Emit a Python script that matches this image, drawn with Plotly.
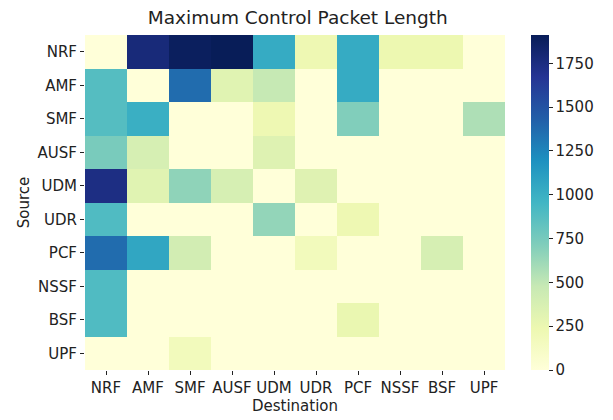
import plotly.graph_objects as go

nodes = ["NRF", "AMF", "SMF", "AUSF", "UDM", "UDR", "PCF", "NSSF", "BSF", "UPF"]
sources = nodes
destinations = nodes

# rows = source, columns = destination
row_NRF  = [0,    1780, 1890, 1912, 1030, 230, 1030, 240, 240, 0]
row_AMF  = [880,  0,    1370, 320,  480,  0,   1030, 0,   0,   0]
row_SMF  = [880,  1000, 0,    0,    230,  0,   710,  0,   0,   560]
row_AUSF = [740,  385,  0,    0,    335,  0,   0,    0,   0,   0]
row_UDM  = [1740, 320,  665,  385,  0,    330, 0,    0,   0,   0]
row_UDR  = [900,  0,    0,    0,    650,  0,   225,  0,   0,   0]
row_PCF  = [1370, 1060, 410,  0,    0,    172, 0,    0,   385, 0]
row_NSSF = [900,  0,    0,    0,    0,    0,   0,    0,   0,   0]
row_BSF  = [900,  0,    0,    0,    0,    0,   260,  0,   0,   0]
row_UPF  = [0,    0,    172,  0,    0,    0,   0,    0,   0,   0]

z = [row_NRF, row_AMF, row_SMF, row_AUSF, row_UDM, row_UDR, row_PCF, row_NSSF, row_BSF, row_UPF]

cbar_ticks = [0, 250, 500, 750, 1000, 1250, 1500, 1750]

ylgnbu = ["#ffffd9", "#edf8b1", "#c7e9b4", "#7fcdbb", "#41b6c4",
          "#1d91c0", "#225ea8", "#253494", "#081d58"]
colorscale = [[i / 8, c] for i, c in enumerate(ylgnbu)]

font_family = "DejaVu Sans"
tick_size = 15

fig = go.Figure(go.Heatmap(
    z=z, x=destinations, y=sources,
    colorscale=colorscale, zmin=0, zmax=1912,
    xgap=0, ygap=0,
    colorbar=dict(
        x=1.062, xanchor="left", xref="paper", xpad=0, ypad=0,
        y=0.5, yanchor="middle", len=1.0, lenmode="fraction",
        thickness=18, outlinewidth=0,
        tickvals=cbar_ticks, ticks="outside", ticklen=4, tickwidth=1,
        tickcolor="#222", tickfont=dict(size=tick_size, color="#222", family=font_family),
    ),
))

# page body adds an 8px offset, so the figure is sized 605x412
fig.update_layout(
    width=605, height=412,
    margin=dict(l=77, r=108, t=27, b=50),
    paper_bgcolor="white", plot_bgcolor="white",
    font=dict(family=font_family, color="#222"),
    title=dict(text="Maximum Control Packet Length", x=0.479, xanchor="center",
               y=0.976, yanchor="middle", font=dict(size=18.5, color="#222")),
)
fig.update_xaxes(
    title=dict(text="Destination", font=dict(size=tick_size), standoff=4),
    tickfont=dict(size=tick_size), ticks="outside", ticklen=4, tickcolor="#222",
    showgrid=False, zeroline=False, showline=False, automargin=False,
)
fig.update_yaxes(
    title=dict(text="Source", font=dict(size=tick_size), standoff=4),
    tickfont=dict(size=tick_size), ticks="outside", ticklen=4, tickcolor="#222",
    autorange="reversed", showgrid=False, zeroline=False, showline=False,
    automargin=False,
)

fig.write_html("out.html")
